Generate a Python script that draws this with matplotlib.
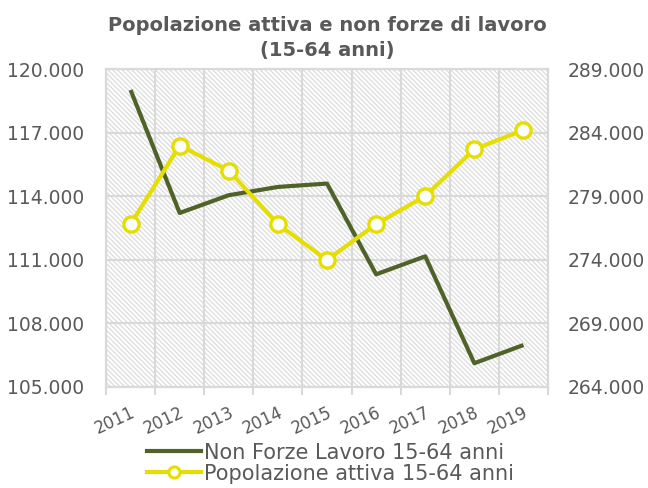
import matplotlib
matplotlib.use("Agg")
import matplotlib.pyplot as plt
from matplotlib.ticker import FuncFormatter, FixedLocator
from matplotlib.lines import Line2D

years = ["2011", "2012", "2013", "2014", "2015", "2016", "2017", "2018", "2019"]
non_forze = [119020, 113210, 114050, 114440, 114600, 110310, 111160, 106110, 106970]
pop_attiva = [276800, 282990, 281020, 276800, 273980, 276800, 279020, 282700, 284220]
left_ticks = [105000, 108000, 111000, 114000, 117000, 120000]
right_ticks = [264000, 269000, 274000, 279000, 284000, 289000]

GREEN = "#4F6228"
YELLOW = "#E6DE00"
TXT = "#595959"
GRID = "#D9D9D9"

plt.rcParams["font.family"] = ["DejaVu Sans"]
plt.rcParams["hatch.linewidth"] = 0.9
plt.rcParams["hatch.color"] = "#DCDCDC"

fig = plt.figure(figsize=(6.48, 4.88), dpi=100)
ax = fig.add_axes([0.1636, 0.2076, 0.6821, 0.6504])
ax2 = ax.twinx()

def fmt(v, pos):
    return f"{int(round(v)):,}".replace(",", ".")

x = list(range(len(years)))

ax.set_xlim(-0.5, len(years) - 0.5)
ax.set_ylim(left_ticks[0], left_ticks[-1])
ax2.set_ylim(right_ticks[0], right_ticks[-1])

# hatched background
ax.patch.set_facecolor("white")
bg = plt.Rectangle((0, 0), 1, 1, transform=ax.transAxes, facecolor="white",
                   edgecolor="#DCDCDC", hatch="\\" * 7, linewidth=0, zorder=0)
ax.add_patch(bg)

ax.yaxis.set_major_locator(FixedLocator(left_ticks))
ax2.yaxis.set_major_locator(FixedLocator(right_ticks))
ax.yaxis.set_major_formatter(FuncFormatter(fmt))
ax2.yaxis.set_major_formatter(FuncFormatter(fmt))

ax.set_xticks(x)
ax.set_xticklabels(years, rotation=25, ha="right", rotation_mode="anchor")
ax.set_xticks([i - 0.5 for i in range(len(years) + 1)], minor=True)
ax.tick_params(axis="x", which="major", length=0, pad=12, labelsize=12, labelcolor=TXT)
ax.tick_params(axis="x", which="minor", length=6, width=1.5, color=GRID)
ax.tick_params(axis="y", length=0, labelsize=13.5, labelcolor=TXT, pad=16)
ax2.tick_params(axis="y", length=0, labelsize=13.5, labelcolor=TXT, pad=14)

ax.grid(True, which="minor", axis="x", color=GRID, linewidth=1.5, zorder=1)
ax.grid(True, which="major", axis="y", color=GRID, linewidth=1.5, zorder=1)
ax.set_axisbelow(True)

for a in (ax, ax2):
    for s in a.spines.values():
        s.set_color(GRID)
        s.set_linewidth(1.5)

ax.plot(x, non_forze, color=GREEN, linewidth=3.0, solid_capstyle="butt", zorder=3)
ax2.plot(x, pop_attiva, color=YELLOW, linewidth=3.0, marker="o", markersize=11,
         markerfacecolor="white", markeredgecolor=YELLOW, markeredgewidth=2.4, zorder=3)

fig.suptitle("Popolazione attiva e non forze di lavoro\n(15-64 anni)", x=0.505, y=0.968,
             fontsize=14, fontweight="bold", color=TXT, linespacing=1.45)

handles = [Line2D([], [], color=GREEN, linewidth=3.0),
           Line2D([], [], color=YELLOW, linewidth=3.0, marker="o", markersize=8,
                  markerfacecolor="white", markeredgecolor=YELLOW, markeredgewidth=2.2)]
fig.legend(handles, ["Non Forze Lavoro 15-64 anni", "Popolazione attiva 15-64 anni"],
           loc="lower center", bbox_to_anchor=(0.51, -0.008), frameon=False,
           fontsize=15, labelcolor=TXT, handlelength=2.6, handletextpad=0.15,
           labelspacing=0.05, borderaxespad=0)

fig.savefig("out.png", dpi=100)
